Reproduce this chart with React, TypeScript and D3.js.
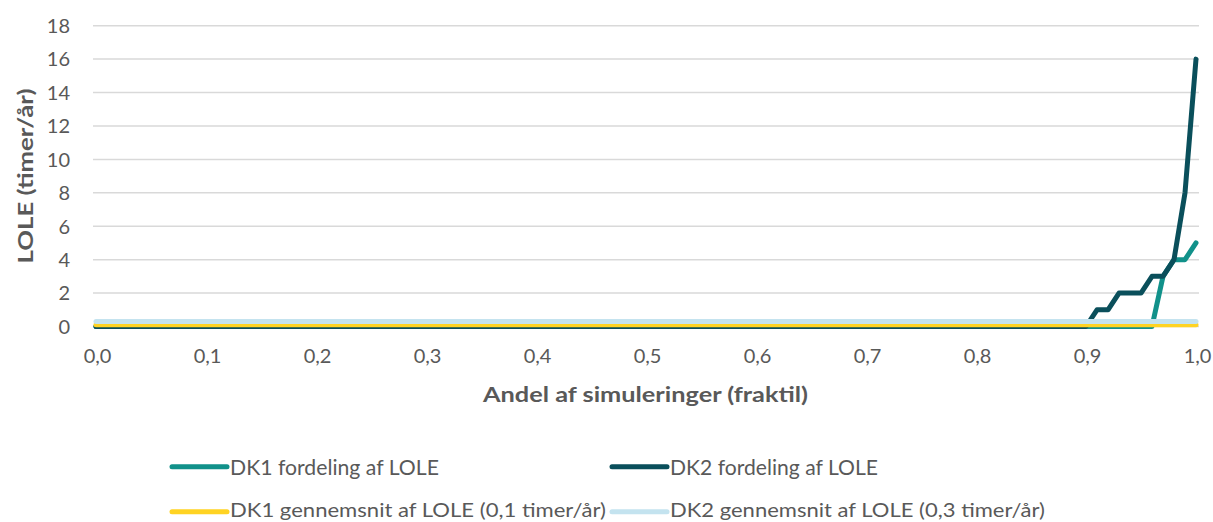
import React from "react";
import * as d3 from "d3";

const fractiles = [
  0.0, 0.01, 0.02, 0.03, 0.04, 0.05, 0.06, 0.07, 0.08, 0.09,
  0.1, 0.11, 0.12, 0.13, 0.14, 0.15, 0.16, 0.17, 0.18, 0.19,
  0.2, 0.21, 0.22, 0.23, 0.24, 0.25, 0.26, 0.27, 0.28, 0.29,
  0.3, 0.31, 0.32, 0.33, 0.34, 0.35, 0.36, 0.37, 0.38, 0.39,
  0.4, 0.41, 0.42, 0.43, 0.44, 0.45, 0.46, 0.47, 0.48, 0.49,
  0.5, 0.51, 0.52, 0.53, 0.54, 0.55, 0.56, 0.57, 0.58, 0.59,
  0.6, 0.61, 0.62, 0.63, 0.64, 0.65, 0.66, 0.67, 0.68, 0.69,
  0.7, 0.71, 0.72, 0.73, 0.74, 0.75, 0.76, 0.77, 0.78, 0.79,
  0.8, 0.81, 0.82, 0.83, 0.84, 0.85, 0.86, 0.87, 0.88, 0.89,
  0.9, 0.91, 0.92, 0.93, 0.94, 0.95, 0.96, 0.97, 0.98, 0.99,
  1.0,
];

const dk1Distribution = [
  0, 0, 0, 0, 0, 0, 0, 0, 0, 0,
  0, 0, 0, 0, 0, 0, 0, 0, 0, 0,
  0, 0, 0, 0, 0, 0, 0, 0, 0, 0,
  0, 0, 0, 0, 0, 0, 0, 0, 0, 0,
  0, 0, 0, 0, 0, 0, 0, 0, 0, 0,
  0, 0, 0, 0, 0, 0, 0, 0, 0, 0,
  0, 0, 0, 0, 0, 0, 0, 0, 0, 0,
  0, 0, 0, 0, 0, 0, 0, 0, 0, 0,
  0, 0, 0, 0, 0, 0, 0, 0, 0, 0,
  0, 0, 0, 0, 0, 0, 0, 3, 4, 4,
  5,
];

const dk2Distribution = [
  0, 0, 0, 0, 0, 0, 0, 0, 0, 0,
  0, 0, 0, 0, 0, 0, 0, 0, 0, 0,
  0, 0, 0, 0, 0, 0, 0, 0, 0, 0,
  0, 0, 0, 0, 0, 0, 0, 0, 0, 0,
  0, 0, 0, 0, 0, 0, 0, 0, 0, 0,
  0, 0, 0, 0, 0, 0, 0, 0, 0, 0,
  0, 0, 0, 0, 0, 0, 0, 0, 0, 0,
  0, 0, 0, 0, 0, 0, 0, 0, 0, 0,
  0, 0, 0, 0, 0, 0, 0, 0, 0, 0,
  0, 1, 1, 2, 2, 2, 3, 3, 4, 8,
  16,
];

const dk1Average = 0.1;
const dk2Average = 0.3;

const xTicks = [0, 0.1, 0.2, 0.3, 0.4, 0.5, 0.6, 0.7, 0.8, 0.9, 1.0];
const xTickLabels = ["0,0", "0,1", "0,2", "0,3", "0,4", "0,5", "0,6", "0,7", "0,8", "0,9", "1,0"];
const yTicks = [0, 2, 4, 6, 8, 10, 12, 14, 16, 18];

const seriesNames = [
  "DK1 fordeling af LOLE",
  "DK2 fordeling af LOLE",
  "DK1 gennemsnit af LOLE (0,1 timer/år)",
  "DK2 gennemsnit af LOLE (0,3 timer/år)",
];
const seriesColors = ["#11918A", "#0A4F5B", "#FFD323", "#C4E3EF"];

const xTitle = "Andel af simuleringer (fraktil)";
const yTitle = "LOLE  (timer/år)";

const W = 1213;
const H = 522;
const FONT = "Lato, 'Open Sans', sans-serif";
const TEXT = "#595959";

export default function App() {
  const x = d3.scaleLinear().domain([0, 1]).range([96, 1196]);
  const y = d3.scaleLinear().domain([0, 18]).range([326.5, 25.7]);

  const line = d3
    .line<[number, number]>()
    .x((d) => x(d[0]))
    .y((d) => y(d[1]));

  const series: [number, number][][] = [
    fractiles.map((f, i) => [f, dk1Distribution[i]] as [number, number]),
    fractiles.map((f, i) => [f, dk2Distribution[i]] as [number, number]),
    fractiles.map((f) => [f, dk1Average] as [number, number]),
    fractiles.map((f) => [f, dk2Average] as [number, number]),
  ];

  const legendItems = [
    { x: 172, y: 466.7, ty: 474.9, text: seriesNames[0], color: seriesColors[0], len: 209, fs: 21 },
    { x: 612, y: 466.7, ty: 474.9, text: seriesNames[1], color: seriesColors[1], len: 208, fs: 21 },
    { x: 172, y: 511.7, ty: 516.5, text: seriesNames[2], color: seriesColors[2], len: 376, fs: 20 },
    { x: 612, y: 511.7, ty: 516.5, text: seriesNames[3], color: seriesColors[3], len: 375, fs: 20 },
  ];

  return (
    <svg
      width={W}
      height={H}
      style={{ position: "absolute", left: 0, top: 0, background: "#fff" }}
      fontFamily={FONT}
    >
      <rect width={W} height={H} fill="#fff" />
      {yTicks.map((t) => (
        <g key={"y" + t}>
          <line x1={93} x2={1199} y1={y(t)} y2={y(t)} stroke="#D9D9D9" strokeWidth={1.5} />
          <text x={70} y={y(t) + 7.3} textAnchor="end" fontSize={20} fill={TEXT}>
            {t}
          </text>
        </g>
      ))}
      {xTicks.map((t, i) => (
        <text key={"x" + t} x={x(t) + 1.5} y={362.5} textAnchor="middle" fontSize={20} fill={TEXT}>
          {xTickLabels[i]}
        </text>
      ))}
      {series.map((s, i) => (
        <path
          key={"s" + i}
          d={line(s) || ""}
          fill="none"
          stroke={seriesColors[i]}
          strokeWidth={5}
          strokeLinecap="round"
          strokeLinejoin="round"
        />
      ))}
      <text
        x={645.5}
        y={402.3}
        textAnchor="middle"
        fontSize={21}
        fontWeight="bold"
        fill={TEXT}
        textLength={325}
        lengthAdjust="spacingAndGlyphs"
      >
        {xTitle}
      </text>
      <text
        transform={`translate(32.5, 176) rotate(-90)`}
        textAnchor="middle"
        fontSize={21}
        fontWeight="bold"
        fill={TEXT}
        textLength={175}
        lengthAdjust="spacingAndGlyphs"
      >
        {yTitle}
      </text>
      {legendItems.map((it, i) => (
        <g key={"l" + i}>
          <line
            x1={it.x}
            x2={it.x + 55}
            y1={it.y}
            y2={it.y}
            stroke={it.color}
            strokeWidth={5}
            strokeLinecap="round"
          />
          <text
            x={it.x + 58}
            y={it.ty}
            fontSize={it.fs}
            fill={TEXT}
            textLength={it.len}
            lengthAdjust="spacingAndGlyphs"
          >
            {it.text}
          </text>
        </g>
      ))}
    </svg>
  );
}
